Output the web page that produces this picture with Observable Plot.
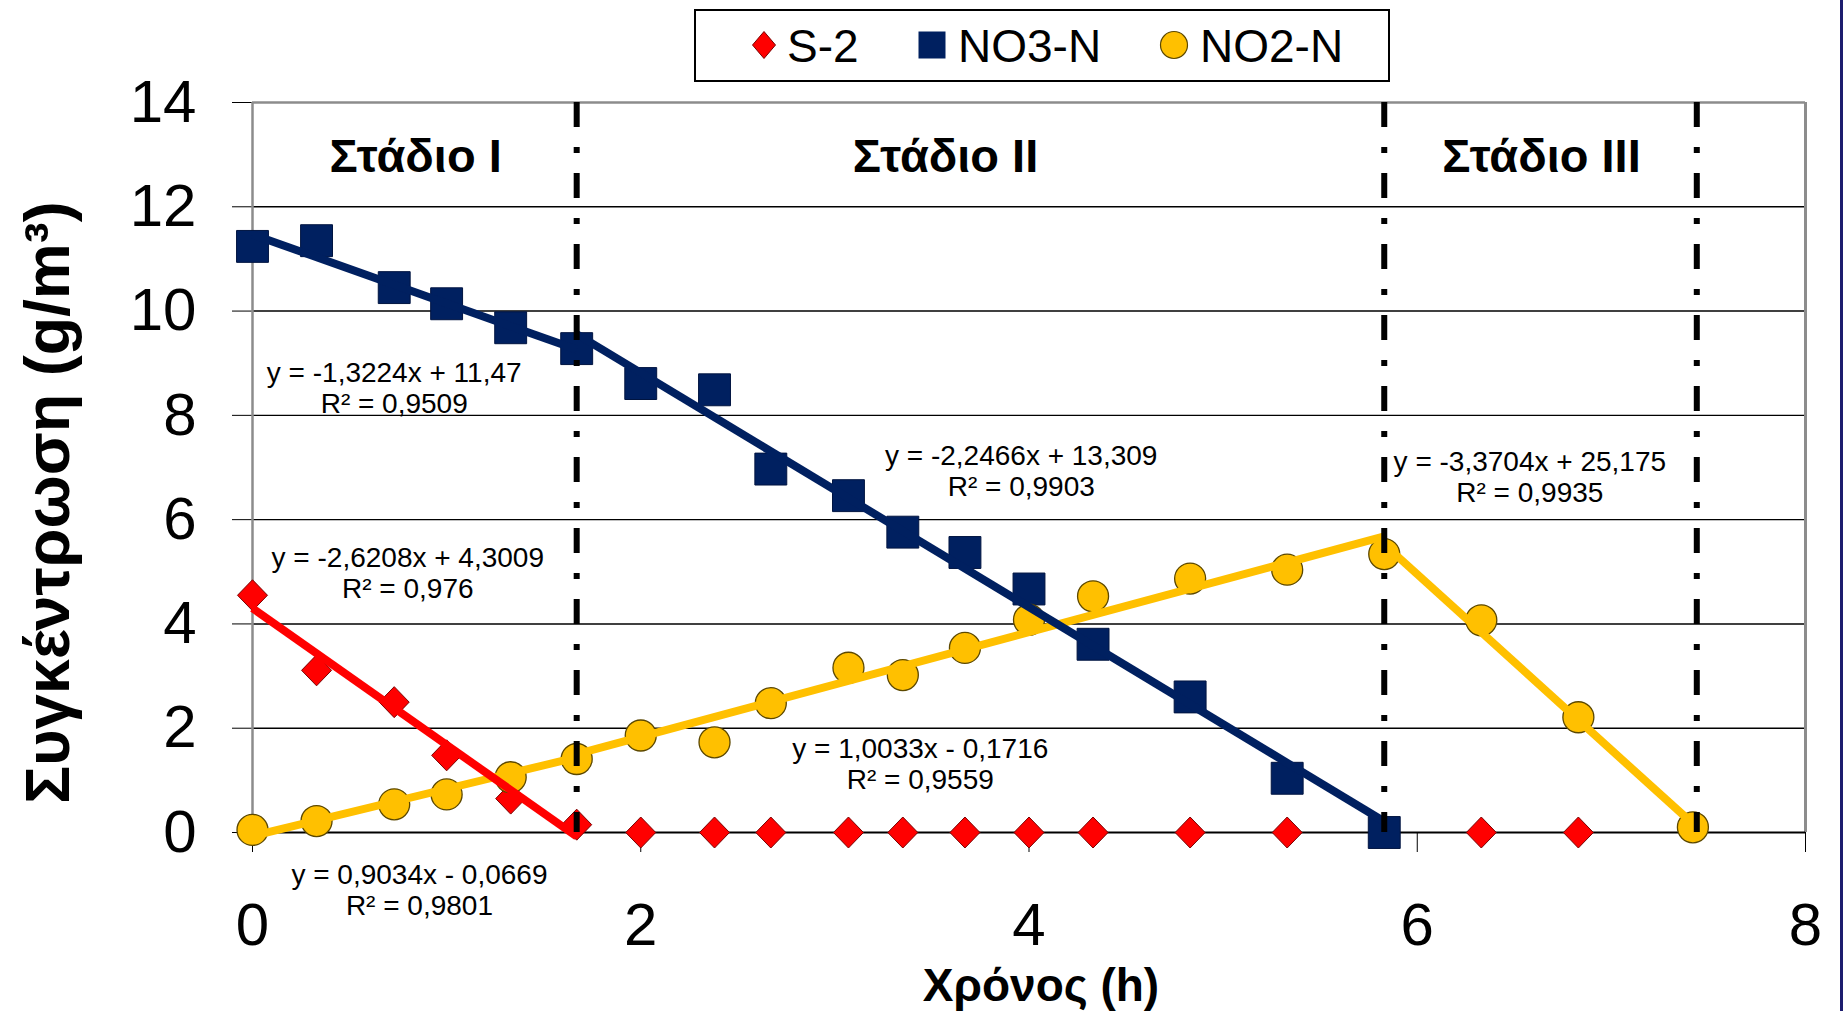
<!DOCTYPE html>
<html>
<head>
<meta charset="utf-8">
<script src="https://cdn.jsdelivr.net/npm/d3@7"></script>
<script src="https://cdn.jsdelivr.net/npm/@observablehq/plot@0.6"></script>
<style>
  html, body { margin: 0; padding: 0; background: #fff; overflow: hidden; }
  #wrap { position: relative; width: 1843px; height: 1011px; }
  #legend { position: absolute; left: 694px; top: 9px; }
  #edge { position: absolute; right: 0; top: 0; width: 3px; height: 1011px; background: #1c1c6e; }
</style>
</head>
<body>
<div id="wrap"><div id="chart"></div><div id="legend"></div><div id="edge"></div></div>
<script>
// ---------- data ----------
const seriesNames = ["S-2", "NO3-N", "NO2-N"];

const s2Time  = [0, 0.33, 0.73, 1.0, 1.33, 1.67, 2.0, 2.38, 2.67, 3.07, 3.35, 3.67, 4.0, 4.33, 4.83, 5.33, 6.33, 6.83];
const s2Value = [4.55, 3.11, 2.50, 1.48, 0.65, 0.15, 0, 0, 0, 0, 0, 0, 0, 0, 0, 0, 0, 0];

const no3Time  = [0, 0.33, 0.73, 1.0, 1.33, 1.67, 2.0, 2.38, 2.67, 3.07, 3.35, 3.67, 4.0, 4.33, 4.83, 5.33, 5.83];
const no3Value = [11.24, 11.35, 10.45, 10.14, 9.68, 9.28, 8.61, 8.49, 6.97, 6.46, 5.76, 5.37, 4.67, 3.61, 2.60, 1.04, 0.0];

const no2Time  = [0, 0.33, 0.73, 1.0, 1.33, 1.67, 2.0, 2.38, 2.67, 3.07, 3.35, 3.67, 4.0, 4.33, 4.83, 5.33, 5.83, 6.33, 6.83, 7.42];
const no2Value = [0.05, 0.22, 0.54, 0.73, 1.06, 1.41, 1.86, 1.73, 2.48, 3.16, 3.02, 3.54, 4.08, 4.53, 4.87, 5.04, 5.34, 4.07, 2.21, 0.10];

// linear trendlines (Excel), one per stage and series
const trendSeries    = ["S-2", "NO3-N", "NO3-N", "NO2-N", "NO2-N", "NO2-N"];
const trendSlope     = [-2.6208, -1.3224, -2.2466, 0.9034, 1.0033, -3.3704];
const trendIntercept = [4.3009, 11.47, 13.309, -0.0669, -0.1716, 25.175];
const trendFrom      = [0, 0, 1.67, 0, 1.67, 5.83];
const trendTo        = [1.67, 1.67, 5.83, 1.67, 5.83, 7.42];
const trendLabel = [
  "y = -2,6208x + 4,3009\nR² = 0,976",
  "y = -1,3224x + 11,47\nR² = 0,9509",
  "y = -2,2466x + 13,309\nR² = 0,9903",
  "y = 0,9034x - 0,0669\nR² = 0,9801",
  "y = 1,0033x - 0,1716\nR² = 0,9559",
  "y = -3,3704x + 25,175\nR² = 0,9935"
];

const stageBounds = [1.67, 5.83, 7.44];
const stageNames  = ["Στάδιο I", "Στάδιο II", "Στάδιο III"];

const xTicks = [0, 2, 4, 6, 8];
const yTicks = [0, 2, 4, 6, 8, 10, 12, 14];
const xTitle = "Χρόνος (h)";
const yTitle = "Συγκέντρωση (g/m³)";

// ---------- layout / style (not data) ----------
const colors = {"S-2": "#FF0000", "NO3-N": "#002060", "NO2-N": "#FFC000"};
const outline = {"S-2": "#7a0000", "NO3-N": "#001440", "NO2-N": "#5c4800"};
const labelAnchor = [[0.80, 4.98], [0.73, 8.53], [3.96, 6.94], [0.86, -1.09], [3.44, 1.32], [6.58, 6.83]];
const stageAnchor = [[0.84, 12.95], [3.57, 12.95], [6.64, 12.95]];

const diamond = { draw(ctx) { ctx.moveTo(0, -15.5); ctx.lineTo(15, 0); ctx.lineTo(0, 15.5); ctx.lineTo(-15, 0); ctx.closePath(); } };

const zip = (xs, ys) => xs.map((x, i) => ({x, y: ys[i]}));
const s2 = zip(s2Time, s2Value), no3 = zip(no3Time, no3Value), no2 = zip(no2Time, no2Value);

const trendPts = trendSeries.flatMap((s, i) => [trendFrom[i], trendTo[i]].map(x => ({seg: i, series: s, x, y: trendSlope[i] * x + trendIntercept[i]})));
const labels = trendLabel.map((t, i) => ({text: t, x: labelAnchor[i][0], y: labelAnchor[i][1]}));
const stages = stageNames.map((t, i) => ({text: t, x: stageAnchor[i][0], y: stageAnchor[i][1]}));

const font = "'Liberation Sans', Arial, sans-serif";

const plot = Plot.plot({
  width: 1843,
  height: 1011,
  marginLeft: 252,
  marginRight: 38,
  marginTop: 102,
  marginBottom: 179,
  style: {fontFamily: font, fontSize: "60px", color: "#000", background: "transparent", overflow: "visible"},
  x: {domain: [0, 8], ticks: xTicks, tickSize: 20, tickPadding: 50, label: null},
  y: {domain: [0, 14], ticks: yTicks, tickSize: 20, tickPadding: 36, label: null},
  marks: [
    Plot.ruleY(yTicks.filter(v => v > 0 && v < 14), {stroke: "#000", strokeWidth: 1.4}),
    Plot.ruleY([14], {stroke: "#8c8c8c", strokeWidth: 2.5}),
    Plot.ruleX([8], {y1: 0, y2: 14, stroke: "#8c8c8c", strokeWidth: 3}),
    Plot.ruleX([0], {y1: 0, y2: 14, stroke: "#8c8c8c", strokeWidth: 2.5}),
    Plot.ruleY([0], {stroke: "#000", strokeWidth: 2}),
    Plot.dot(s2, {x: "x", y: "y", symbol: diamond, fill: colors["S-2"], stroke: outline["S-2"], strokeWidth: 1}),
    Plot.dot(no3, {x: "x", y: "y", symbol: "square", r: 18, fill: colors["NO3-N"], stroke: outline["NO3-N"], strokeWidth: 1}),
    Plot.dot(no2, {x: "x", y: "y", r: 15.5, fill: colors["NO2-N"], stroke: outline["NO2-N"], strokeWidth: 1.3}),
    ...["NO2-N", "NO3-N", "S-2"].map(s =>
      Plot.line(trendPts.filter(d => d.series === s), {x: "x", y: "y", z: "seg", stroke: colors[s], strokeWidth: 8, strokeLinecap: "butt"})),
    Plot.ruleX(stageBounds, {y1: 14, y2: 0, stroke: "#000", strokeWidth: 6, strokeDasharray: "25 20 6 20"}),
    Plot.text(stages, {x: "x", y: "y", text: "text", fontSize: 47, fontWeight: "bold", fill: "#000", lineAnchor: "middle"}),
    Plot.text(labels, {x: "x", y: "y", text: "text", fontSize: 28, fill: "#000", lineAnchor: "middle", lineHeight: 1.1}),
    Plot.text([xTitle], {frameAnchor: "bottom", text: d => d, dx: 12, dy: 168, lineAnchor: "bottom", fontSize: 46, fontWeight: "bold", fill: "#000"}),
    Plot.text([yTitle], {frameAnchor: "left", text: d => d, rotate: -90, dx: -184, dy: 35, textAnchor: "middle", lineAnchor: "bottom", fontSize: 63, fontWeight: "bold", fill: "#000"})
  ]
});
document.getElementById("chart").appendChild(plot);

// ---------- legend ----------
const legendItems = seriesNames.map((name, i) => ({name, symX: [70, 238, 480][i], textX: [93, 264, 506][i]}));
const lg = d3.select("#legend").append("svg").attr("width", 696).attr("height", 73).style("font-family", font);
lg.append("rect").attr("x", 1).attr("y", 1).attr("width", 694).attr("height", 71).attr("fill", "#fff").attr("stroke", "#000").attr("stroke-width", 2);
legendItems.forEach(it => {
  const g = lg.append("g").attr("transform", `translate(${it.symX},36)`);
  if (it.name === "S-2") g.append("path").attr("d", "M0,-13.5L11.5,0L0,13.5L-11.5,0Z").attr("fill", colors["S-2"]).attr("stroke", outline["S-2"]);
  else if (it.name === "NO3-N") g.append("rect").attr("x", -13.5).attr("y", -13.5).attr("width", 27).attr("height", 27).attr("fill", colors["NO3-N"]);
  else g.append("circle").attr("r", 13.5).attr("fill", colors["NO2-N"]).attr("stroke", outline["NO2-N"]).attr("stroke-width", 1.2);
  lg.append("text").attr("x", it.textX).attr("y", 52.5).attr("font-size", 46).attr("fill", "#000").text(it.name);
});
</script>
</body>
</html>
